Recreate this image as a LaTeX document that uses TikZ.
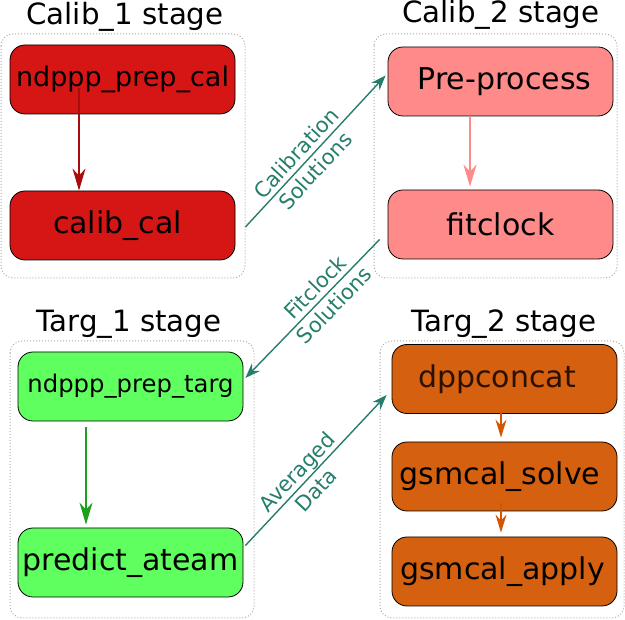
\documentclass[tikz,border=0pt]{standalone}
\usepackage{fontspec}
\setmainfont{DejaVu Sans}
\usetikzlibrary{arrows.meta}
\definecolor{redfill}{HTML}{D61515}
\definecolor{redarrow}{HTML}{A80C0C}
\definecolor{pinkfill}{HTML}{FF8A8A}
\definecolor{greenfill}{HTML}{60FF60}
\definecolor{greenarrow}{HTML}{1EA01E}
\definecolor{orangefill}{HTML}{D5600F}
\definecolor{orangearrow}{HTML}{D45500}
\definecolor{tealc}{HTML}{267D6C}
\definecolor{darkbrown}{HTML}{2B1100}
\begin{document}
\begin{tikzpicture}[x=1pt,y=-1pt,
  grp/.style={draw=gray!65, dotted, line width=1pt, rounded corners=12pt},
  box/.style={draw=black, line width=0.8pt, rounded corners=15pt, minimum width=225pt, minimum height=69pt, inner sep=0pt, font=\fontsize{30}{36}\selectfont},
  title/.style={anchor=base, inner sep=0pt, font=\fontsize{29.3}{35}\selectfont},
  inarrow/.style={line width=1.3pt, -{Stealth[length=22pt,width=13pt,inset=7pt]}},
  smallarrow/.style={line width=1.3pt, -{Stealth[length=18pt,width=11pt,inset=6pt]}},
  conn/.style={draw=tealc, line width=1.4pt, -{Stealth[length=15pt,width=11pt,inset=5pt]}},
  lbl/.style={sloped, align=center, text=tealc, inner sep=0pt, font=\fontsize{21}{26}\selectfont},
]
\useasboundingbox (0,0) rectangle (625,620);

% groups
\draw[grp] (1,34) rectangle (245,278);
\draw[grp] (374,34) rectangle (617,278);
\draw[grp] (10,341) rectangle (254,618);
\draw[grp] (380,341) rectangle (624,618);

% titles
\node[title] (t1) at (125,25) {Calib\_1 stage};
\node[title] (t2) at (501,23) {Calib\_2 stage};
\node[title] (t3) at (129,332) {Targ\_1 stage};
\node[title] (t4) at (504,332) {Targ\_2 stage};

% nodes
\node[box, fill=redfill, font=\fontsize{27}{32}\selectfont] (prepcal) at (122.5,79.5) {ndppp\_prep\_cal};
\node[box, fill=redfill] (calibcal) at (122.5,225.5) {calib\_cal\hspace*{10pt}};
\node[box, fill=pinkfill] (pre) at (500.5,81.5) {\hspace*{8pt}Pre-process};
\node[box, fill=pinkfill] (fit) at (500.5,224.5) {fitclock};
\node[box, fill=greenfill, font=\fontsize{24.3}{30}\selectfont] (preptarg) at (130.5,386.5) {ndppp\_prep\_targ};
\node[box, fill=greenfill] (predict) at (130.5,562.5) {predict\_ateam};
\node[box, fill=orangefill, text=darkbrown] (dpp) at (504.5,379) {dppconcat\hspace*{15pt}};
\node[box, fill=orangefill] (solve) at (504.5,476.5) {gsmcal\_solve\hspace*{9pt}};
\node[box, fill=orangefill] (apply) at (504.5,571.5) {gsmcal\_apply\hspace*{4pt}};

% internal arrows
\draw[inarrow, draw=redarrow] ([xshift=-43.5pt,yshift=-9pt]prepcal.center) -- ([xshift=-43.5pt]calibcal.north);
\draw[inarrow, draw=pinkfill, shorten >=3pt] ([xshift=-30.5pt]pre.south) -- ([xshift=-30.5pt]fit.north);
\draw[inarrow, draw=greenarrow, shorten >=3pt] ([xshift=-44.5pt,yshift=-6pt]preptarg.south) -- ([xshift=-44.5pt]predict.north);
\draw[smallarrow, draw=orangearrow, shorten >=4pt] ([xshift=-3.5pt,yshift=3pt]dpp.south) -- ([xshift=-3.5pt]solve.north);
\draw[smallarrow, draw=orangearrow, shorten >=4pt] ([xshift=-3.5pt,yshift=8pt]solve.south) -- ([xshift=-3.5pt]apply.north);

% connectors between stages
\draw[conn] ([xshift=10pt,yshift=-1.5pt]calibcal.east) -- node[lbl, pos=0.43] {Calibration\\Solutions} ([xshift=-2pt,yshift=6pt]pre.west);
\draw[conn] ([xshift=-8pt,yshift=-15pt]fit.west) -- node[lbl, pos=0.41] {Fitclock\\Solutions} ([xshift=2pt,yshift=8.5pt]preptarg.east);
\draw[conn] ([xshift=2pt,yshift=17pt]predict.east) -- node[lbl, pos=0.43] {Averaged\\Data} ([xshift=-5pt,yshift=-16pt]dpp.west);
\end{tikzpicture}
\end{document}
